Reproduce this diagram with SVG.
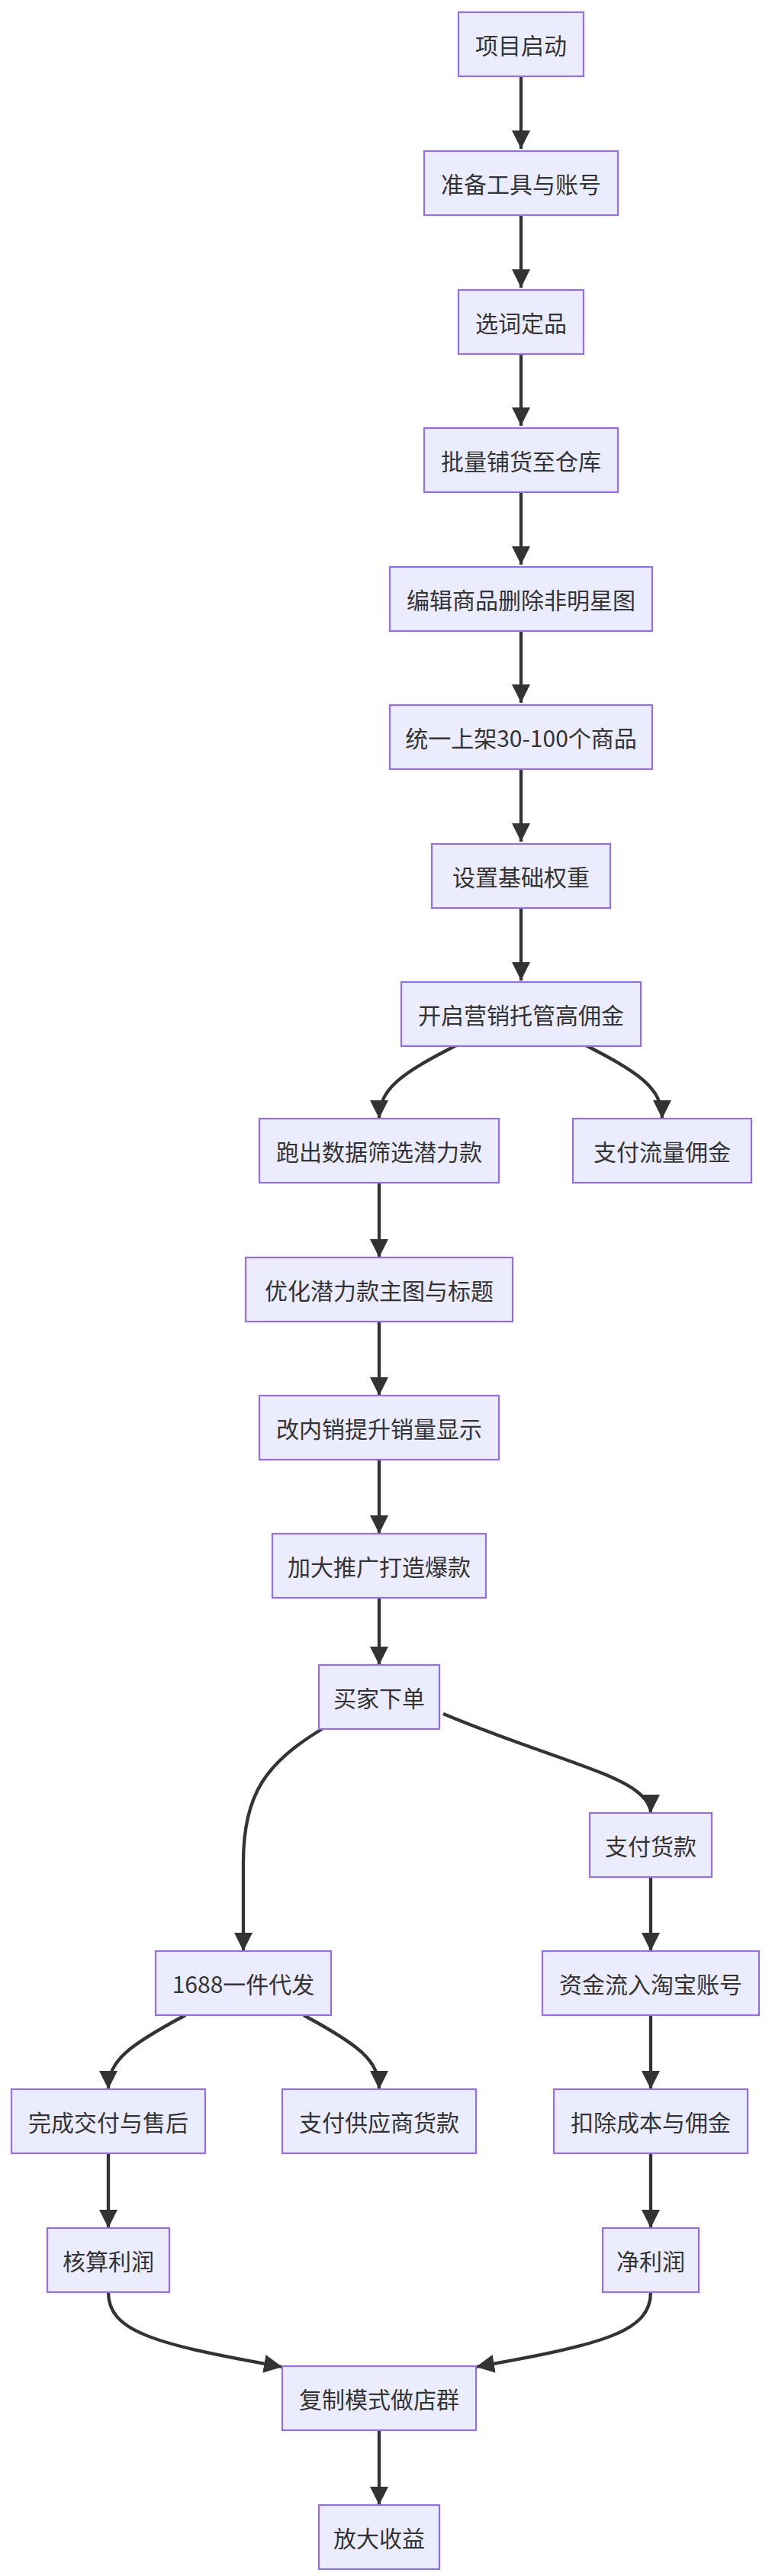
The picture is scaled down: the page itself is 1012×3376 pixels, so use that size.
<svg xmlns="http://www.w3.org/2000/svg" width="1012" height="3376" viewBox="0 0 1012 3376">
<style>
.n rect{fill:#ECECFF;stroke:#9370DB;stroke-width:2.2}
.n text{font-family:"Noto Sans CJK SC","Liberation Sans",sans-serif;font-size:30px;fill:#333;text-anchor:middle;dominant-baseline:central}
#edges path{fill:none;stroke:#333;stroke-width:4.3;marker-end:url(#arr)}
</style>
<defs>
<marker id="arr" markerUnits="userSpaceOnUse" markerWidth="26" markerHeight="26" refX="24" refY="12" orient="auto"><path d="M0,0 L24,12 L0,24 z" fill="#333"/></marker>
</defs>
<rect width="1012" height="3376" fill="#fff"/>
<g id="edges">
<path d="M683,100 V195"/>
<path d="M683,282 V377"/>
<path d="M683,464 V558"/>
<path d="M683,645 V740"/>
<path d="M683,827 V921"/>
<path d="M683,1008 V1103"/>
<path d="M683,1190 V1285"/>
<path d="M600,1369 C530,1405 497,1425 497,1466"/>
<path d="M766,1369 C836,1405 868,1425 868,1466"/>
<path d="M497,1550 V1648"/>
<path d="M497,1732 V1829"/>
<path d="M497,1913 V2010"/>
<path d="M497,2094 V2182"/>
<path d="M422,2266 C350,2310 319,2350 319,2440 V2557"/>
<path d="M581,2246 C700,2296 800,2320 835,2348 Q853,2362 853,2376"/>
<path d="M853,2460 V2557"/>
<path d="M853,2641 V2738"/>
<path d="M853,2823 V2920"/>
<path d="M243,2641 C170,2680 142,2700 142,2738"/>
<path d="M398,2641 C470,2680 497,2700 497,2738"/>
<path d="M142,2823 V2920"/>
<path d="M142,3004 C142,3055 200,3072 370,3102"/>
<path d="M853,3004 C853,3055 795,3072 624,3102"/>
<path d="M497,3185 V3283"/>
</g>
<g id="n0" class="n"><rect x="601" y="16" width="164" height="84"/><text x="683" y="58">项目启动</text></g>
<g id="n1" class="n"><rect x="556" y="198" width="254" height="84"/><text x="683" y="240">准备工具与账号</text></g>
<g id="n2" class="n"><rect x="601" y="380" width="164" height="84"/><text x="683" y="422">选词定品</text></g>
<g id="n3" class="n"><rect x="556" y="561" width="254" height="84"/><text x="683" y="603">批量铺货至仓库</text></g>
<g id="n4" class="n"><rect x="511" y="743" width="344" height="84"/><text x="683" y="785">编辑商品删除非明星图</text></g>
<g id="n5" class="n"><rect x="511" y="924" width="344" height="84"/><text x="683" y="966">统一上架30-100个商品</text></g>
<g id="n6" class="n"><rect x="566" y="1106" width="234" height="84"/><text x="683" y="1148">设置基础权重</text></g>
<g id="n7" class="n"><rect x="526" y="1287" width="314" height="84"/><text x="683" y="1329">开启营销托管高佣金</text></g>
<g id="n8" class="n"><rect x="340" y="1466" width="314" height="84"/><text x="497" y="1508">跑出数据筛选潜力款</text></g>
<g id="n9" class="n"><rect x="751" y="1466" width="234" height="84"/><text x="868" y="1508">支付流量佣金</text></g>
<g id="n10" class="n"><rect x="322" y="1648" width="350" height="84"/><text x="497" y="1690">优化潜力款主图与标题</text></g>
<g id="n11" class="n"><rect x="340" y="1829" width="314" height="84"/><text x="497" y="1871">改内销提升销量显示</text></g>
<g id="n12" class="n"><rect x="357" y="2010" width="280" height="84"/><text x="497" y="2052">加大推广打造爆款</text></g>
<g id="n13" class="n"><rect x="418" y="2182" width="158" height="84"/><text x="497" y="2224">买家下单</text></g>
<g id="n14" class="n"><rect x="773" y="2376" width="160" height="84"/><text x="853" y="2418">支付货款</text></g>
<g id="n15" class="n"><rect x="204" y="2557" width="230" height="84"/><text x="319" y="2599">1688一件代发</text></g>
<g id="n16" class="n"><rect x="711" y="2557" width="284" height="84"/><text x="853" y="2599">资金流入淘宝账号</text></g>
<g id="n17" class="n"><rect x="15" y="2738" width="254" height="84"/><text x="142" y="2780">完成交付与售后</text></g>
<g id="n18" class="n"><rect x="370" y="2738" width="254" height="84"/><text x="497" y="2780">支付供应商货款</text></g>
<g id="n19" class="n"><rect x="726" y="2738" width="254" height="84"/><text x="853" y="2780">扣除成本与佣金</text></g>
<g id="n20" class="n"><rect x="62" y="2920" width="160" height="84"/><text x="142" y="2962">核算利润</text></g>
<g id="n21" class="n"><rect x="790" y="2920" width="126" height="84"/><text x="853" y="2962">净利润</text></g>
<g id="n22" class="n"><rect x="370" y="3101" width="254" height="84"/><text x="497" y="3143">复制模式做店群</text></g>
<g id="n23" class="n"><rect x="418" y="3283" width="158" height="84"/><text x="497" y="3325">放大收益</text></g>
</svg>
